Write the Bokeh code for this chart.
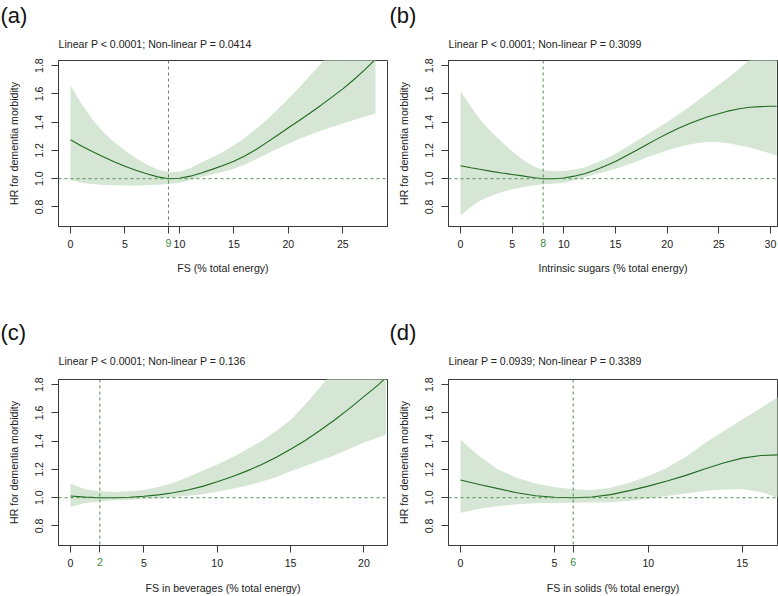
from bokeh.plotting import figure
from bokeh.models import Range1d, FixedTicker, Span, Title, LinearAxis, NumeralTickFormatter
from bokeh.layouts import gridplot
from bokeh.embed import file_html
from bokeh.resources import INLINE

# ---------------- data ----------------
y_ticks = [0.8, 1.0, 1.2, 1.4, 1.6, 1.8]
y_label = "HR for dementia morbidity"

# (a) FS
a_x = [0, 1, 2, 3, 4, 5, 6, 7, 8, 9, 10, 11, 12, 13, 14, 15, 16, 17, 18, 19, 20, 21, 22, 23, 24, 25, 26, 27, 28]
a_hr = [1.275, 1.232, 1.192, 1.155, 1.12, 1.088, 1.06, 1.035, 1.013, 1.0, 1.003, 1.018, 1.04, 1.066, 1.094,
        1.123, 1.16, 1.205, 1.255, 1.307, 1.36, 1.412, 1.465, 1.52, 1.577, 1.635, 1.70, 1.77, 1.845]
a_lo = [0.99, 0.972, 0.962, 0.956, 0.953, 0.952, 0.952, 0.954, 0.957, 0.962, 0.972, 0.99, 1.012, 1.03, 1.05,
        1.07, 1.1, 1.135, 1.175, 1.212, 1.247, 1.28, 1.31, 1.34, 1.365, 1.39, 1.415, 1.44, 1.462]
a_hi = [1.66, 1.53, 1.42, 1.33, 1.26, 1.20, 1.145, 1.10, 1.065, 1.047, 1.05, 1.075, 1.115, 1.15, 1.19,
        1.235, 1.29, 1.35, 1.415, 1.49, 1.565, 1.645, 1.73, 1.815, 1.91, 2.0, 2.1, 2.2, 2.3]
a_ref = 9
a_ticks = [0, 5, 10, 15, 20, 25]
a_title = "(a)"
a_sub = "Linear P < 0.0001; Non-linear P = 0.0414"
a_xlab = "FS (% total energy)"

# (b) Intrinsic sugars
b_x = [0, 1, 2, 3, 4, 5, 6, 7, 8, 9, 10, 11, 12, 13, 14, 15, 16, 17, 18, 19, 20, 21, 22, 23, 24, 25, 26, 27,
       28, 29, 30, 30.6]
b_hr = [1.092, 1.078, 1.065, 1.052, 1.04, 1.03, 1.02, 1.008, 1.0, 1.0, 1.005, 1.018, 1.035, 1.06, 1.09, 1.122,
        1.16, 1.2, 1.24, 1.28, 1.318, 1.353, 1.385, 1.414, 1.44, 1.46, 1.48, 1.495, 1.505, 1.51, 1.512, 1.512]
b_lo = [0.74, 0.80, 0.847, 0.88, 0.906, 0.925, 0.94, 0.952, 0.96, 0.965, 0.972, 0.988, 1.01, 1.03, 1.05, 1.07,
        1.095, 1.12, 1.15, 1.175, 1.20, 1.222, 1.24, 1.253, 1.26, 1.258, 1.25, 1.235, 1.22, 1.2, 1.178, 1.165]
b_hi = [1.62, 1.51, 1.41, 1.33, 1.26, 1.195, 1.135, 1.09, 1.06, 1.052, 1.055, 1.065, 1.08, 1.11, 1.14, 1.176,
        1.22, 1.265, 1.31, 1.355, 1.40, 1.45, 1.50, 1.555, 1.61, 1.665, 1.72, 1.78, 1.84, 1.92, 2.0, 2.05]
b_ref = 8
b_ticks = [0, 5, 10, 15, 20, 25, 30]
b_title = "(b)"
b_sub = "Linear P < 0.0001; Non-linear P = 0.3099"
b_xlab = "Intrinsic sugars (% total energy)"

# (c) FS in beverages
c_x = [0, 1, 2, 3, 4, 5, 6, 7, 8, 9, 10, 11, 12, 13, 14, 15, 16, 17, 18, 19, 20, 21, 21.5]
c_hr = [1.012, 1.004, 1.0, 1.0, 1.003, 1.01, 1.02, 1.035, 1.055, 1.08, 1.113, 1.148, 1.188, 1.233, 1.285,
        1.343, 1.405, 1.475, 1.55, 1.63, 1.715, 1.80, 1.85]
c_lo = [0.935, 0.962, 0.975, 0.982, 0.986, 0.99, 0.996, 1.005, 1.014, 1.025, 1.042, 1.062, 1.085, 1.112, 1.145,
        1.188, 1.225, 1.262, 1.3, 1.345, 1.39, 1.425, 1.445]
c_hi = [1.10, 1.06, 1.045, 1.04, 1.045, 1.055, 1.075, 1.105, 1.145, 1.19, 1.235, 1.285, 1.34, 1.40, 1.47,
        1.55, 1.66, 1.78, 1.9, 2.03, 2.17, 2.31, 2.38]
c_ref = 2
c_ticks = [0, 5, 10, 15, 20]
c_title = "(c)"
c_sub = "Linear P < 0.0001; Non-linear P = 0.136"
c_xlab = "FS in beverages (% total energy)"

# (d) FS in solids
d_x = [0, 1, 2, 3, 4, 5, 6, 7, 8, 9, 10, 11, 12, 13, 14, 15, 16, 16.9]
d_hr = [1.125, 1.094, 1.064, 1.035, 1.014, 1.003, 1.0, 1.005, 1.022, 1.05, 1.082, 1.118, 1.158, 1.203, 1.245,
        1.28, 1.298, 1.303]
d_lo = [0.894, 0.922, 0.941, 0.953, 0.96, 0.963, 0.965, 0.966, 0.968, 0.978, 0.993, 1.012, 1.03, 1.047, 1.058,
        1.06, 1.04, 1.0]
d_hi = [1.41, 1.294, 1.2, 1.141, 1.10, 1.075, 1.06, 1.055, 1.07, 1.105, 1.153, 1.212, 1.29, 1.385, 1.47,
        1.553, 1.635, 1.71]
d_ref = 6
d_ticks = [0, 5, 10, 15]
d_title = "(d)"
d_sub = "Linear P = 0.0939; Non-linear P = 0.3389"
d_xlab = "FS in solids (% total energy)"

# ---------------- styling ----------------
FONT = "Liberation Sans"
FS = "10.6px"
AX = "#3a3a3a"
LINE = "#1f6a1f"
BAND = "#d6e6d4"
DASH = "#4f8f4f"
REFTXT = "#3d8a3d"
W, H = 389, 298
Y0, Y1 = 0.662, 1.836


def style_axis(ax):
    ax.axis_line_color = AX
    ax.major_tick_line_color = AX
    ax.major_tick_out = 7
    ax.major_tick_in = 0
    ax.minor_tick_line_color = None
    ax.major_label_text_font = FONT
    ax.major_label_text_font_size = FS
    ax.major_label_text_color = "#222222"
    ax.axis_label_text_font = FONT
    ax.axis_label_text_font_size = FS
    ax.axis_label_text_font_style = "normal"
    ax.axis_label_text_color = "#222222"


def make_tag(title, left, so):
    t = Title(text=title, align="left", offset=-left, vertical_align="top",
              text_font=FONT, text_font_size="22px", text_font_style="normal", text_color="#111111")
    try:
        t.standoff = so
    except Exception:
        t.standoff = 0
    return t


def panel(x, hr, lo, hi, ref, ticks, xr, title, sub, xlab, left, top, bottom, gap, sub_so, xl_so, tag_so):
    p = figure(width=W, height=H, x_range=Range1d(*xr), y_range=Range1d(Y0, Y1),
               output_backend="svg", toolbar_location=None,
               min_border_left=left, min_border_right=W - left - 329,
               min_border_top=top, min_border_bottom=bottom)
    p.grid.visible = False
    p.outline_line_color = AX
    p.outline_line_width = 1
    p.background_fill_color = "white"
    p.border_fill_color = "white"

    p.varea(x=x, y1=lo, y2=hi, fill_color=BAND, fill_alpha=1)
    p.line(x=x, y=hr, line_color=LINE, line_width=1.1)
    p.add_layout(Span(location=1.0, dimension="width", line_color=DASH, line_dash="3 3", line_width=1))
    p.add_layout(Span(location=ref, dimension="height", line_color=DASH, line_dash="3 3", line_width=1))

    # main x axis: ticks and black tick labels
    style_axis(p.xaxis[0])
    p.xaxis.ticker = FixedTicker(ticks=sorted(ticks + [ref]))
    p.xaxis.major_label_overrides = {ref: ""}
    p.xaxis.major_label_standoff = 6

    # second x axis: green label of the reference value (pulled up into the label row) + axis title
    ref_axis = LinearAxis(ticker=FixedTicker(ticks=[ref]))
    style_axis(ref_axis)
    ref_axis.axis_line_color = None
    ref_axis.major_tick_line_color = None
    ref_axis.major_tick_out = 0
    ref_axis.major_label_text_color = REFTXT
    ref_axis.major_label_standoff = -12
    ref_axis.axis_label = xlab
    ref_axis.axis_label_standoff = xl_so
    p.add_layout(ref_axis, "below")

    style_axis(p.yaxis[0])
    p.yaxis.ticker = FixedTicker(ticks=y_ticks)
    p.yaxis.formatter = NumeralTickFormatter(format="0.0")
    p.yaxis.major_label_orientation = "vertical"
    p.yaxis.major_label_standoff = 8
    p.yaxis.axis_label = y_label
    p.yaxis.axis_label_standoff = 13

    # spacer, subtitle and panel tag stacked above the frame
    p.add_layout(Title(text=" ", standoff=gap, text_font_size="1px"), "above")
    p.add_layout(Title(text=sub, align="left", offset=0, standoff=sub_so, vertical_align="bottom",
                       text_font=FONT, text_font_size=FS, text_font_style="normal",
                       text_color="#222222"), "above")
    p.add_layout(make_tag(title, left, tag_so), "above")
    return p


pa = panel(a_x, a_hr, a_lo, a_hi, a_ref, a_ticks, (-1.1, 29.1), a_title, a_sub, a_xlab, 58, 60, 72, 1, 14, 12, -2)
pb = panel(b_x, b_hr, b_lo, b_hi, b_ref, b_ticks, (-1.16, 30.68), b_title, b_sub, b_xlab, 59, 60, 72, 1, 14, 12, -2)
pc = panel(c_x, c_hr, c_lo, c_hi, c_ref, c_ticks, (-0.82, 21.61), c_title, c_sub, c_xlab, 58, 81, 51, 4, 12, 13, 0)
pd = panel(d_x, d_hr, d_lo, d_hi, d_ref, d_ticks, (-0.64, 16.88), d_title, d_sub, d_xlab, 59, 81, 51, 4, 12, 13, 0)

grid = gridplot([[pa, pb], [pc, pd]], toolbar_location=None)
open("out.html", "w").write(file_html(grid, INLINE))
